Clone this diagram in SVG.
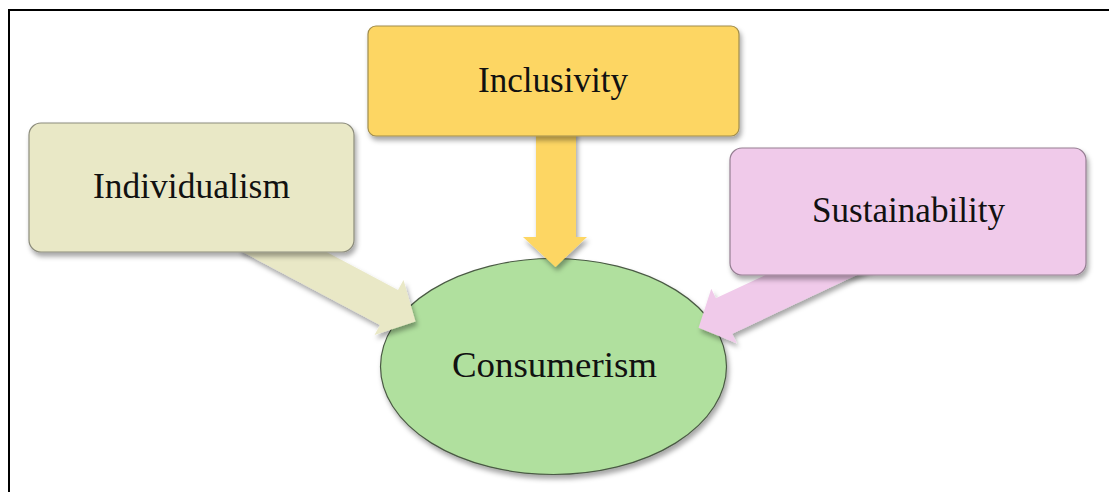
<svg xmlns="http://www.w3.org/2000/svg" width="1110" height="492" viewBox="0 0 1110 492">
<defs>
<filter id="sh" x="-20%" y="-20%" width="140%" height="150%">
<feDropShadow dx="2" dy="4" stdDeviation="2.5" flood-color="#000" flood-opacity="0.35"/>
</filter>
<style>
.lbl{font-family:"Liberation Serif","Times New Roman",serif;font-size:35px;fill:#111;text-anchor:middle}
.box{stroke-width:1.2}
</style>
</defs>
<rect x="0" y="0" width="1110" height="492" fill="#fff"/>
<path d="M9,492 V10 H1109" fill="none" stroke="#000" stroke-width="2"/>

<g id="node-consumerism">
<ellipse cx="553.5" cy="366.5" rx="173" ry="108" fill="#B0E09E" stroke="#4a5a44" stroke-width="1.2" filter="url(#sh)"/>
<text class="lbl" x="554.5" y="377" textLength="205" lengthAdjust="spacingAndGlyphs">Consumerism</text>
</g>

<g id="connectors" filter="url(#sh)">
<path id="arrow-individualism" fill="#E9E8C6" d="M239,250 L380,325 L374.5,335 L415.5,321.6 L403.5,280 L398,290 L257,215 Z"/>
<path id="arrow-inclusivity" fill="#FDD663" d="M536,130 L536,237 L523,237 L555.5,267 L587,237 L576,237 L576,130 Z"/>
<path id="arrow-sustainability" fill="#F0CAEA" d="M895,257 L732.2,333.7 L736.7,343.2 L698.6,327.8 L711.3,288.8 L715.8,298.3 L879,222 Z"/>
</g>

<g id="node-individualism">
<rect class="box" x="29" y="123" width="325" height="129" rx="12" fill="#E9E8C6" stroke="#8c8c7c" filter="url(#sh)"/>
<text class="lbl" x="191.5" y="198" textLength="197" lengthAdjust="spacingAndGlyphs">Individualism</text>
</g>

<g id="node-inclusivity">
<rect class="box" x="368" y="26" width="371" height="110" rx="8" fill="#FDD663" stroke="#a08c4c" filter="url(#sh)"/>
<text class="lbl" x="553" y="92" textLength="150" lengthAdjust="spacingAndGlyphs">Inclusivity</text>
</g>

<g id="node-sustainability">
<rect class="box" x="730" y="148" width="356" height="127" rx="12" fill="#F0CAEA" stroke="#957f92" filter="url(#sh)"/>
<text class="lbl" x="908.5" y="222" textLength="193" lengthAdjust="spacingAndGlyphs">Sustainability</text>
</g>
</svg>
